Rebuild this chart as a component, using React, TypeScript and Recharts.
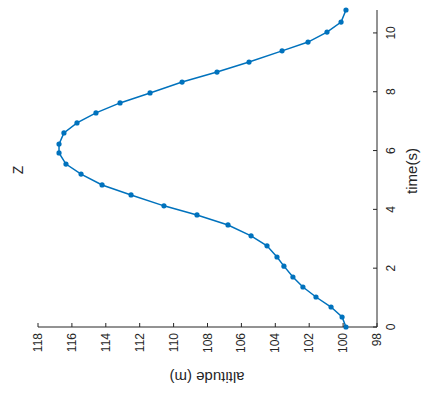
import { Scatter, ScatterChart, XAxis, YAxis } from "recharts";

const TIME = [
  0, 0.34, 0.68, 1.02, 1.36, 1.7, 2.07, 2.38, 2.76, 3.1, 3.47, 3.81, 4.12, 4.49, 4.83, 5.2,
  5.54, 5.92, 6.22, 6.6, 6.94, 7.28, 7.62, 7.96, 8.33, 8.67, 9.01, 9.39, 9.69, 10.03, 10.37, 10.78,
];
const ALTITUDE = [
  99.83, 100.06, 100.71, 101.6, 102.37, 102.96, 103.49, 103.9, 104.49, 105.43, 106.79, 108.62,
  110.57, 112.51, 114.22, 115.46, 116.35, 116.76, 116.76, 116.47, 115.7, 114.58, 113.16, 111.39,
  109.5, 107.44, 105.55, 103.6, 102.07, 100.95, 100.12, 99.83,
];
const ALT_TICKS = [98, 100, 102, 104, 106, 108, 110, 112, 114, 116, 118];
const TIME_TICKS = [0, 2, 4, 6, 8, 10];

const data = TIME.map((t, i) => ({ time: t, alt: ALTITUDE[i] }));

const INK = "#262626";
const BLUE = "#0072BD";
const FONT = "'Liberation Sans', Arial, Helvetica, sans-serif";

// whole figure is turned 90deg counter-clockwise, so all text is rotated
function AltTick({ x, y, payload }: any) {
  const ty = y + 6;
  return (
    <g>
      <line x1={x} y1={y} x2={x} y2={y - 4} stroke={INK} />
      <text
        x={x}
        y={ty}
        transform={`rotate(-90, ${x}, ${ty})`}
        textAnchor="end"
        dominantBaseline="central"
        fontSize={12}
        fontFamily={FONT}
        fill={INK}
      >
        {payload.value}
      </text>
    </g>
  );
}

function TimeTick({ x, y, payload }: any) {
  const tx = x + 14;
  return (
    <g>
      <line x1={x} y1={y} x2={x - 4} y2={y} stroke={INK} />
      <text
        x={tx}
        y={y}
        transform={`rotate(-90, ${tx}, ${y})`}
        textAnchor="middle"
        dominantBaseline="central"
        fontSize={12}
        fontFamily={FONT}
        fill={INK}
      >
        {payload.value}
      </text>
    </g>
  );
}

function Dot({ cx, cy }: any) {
  return <circle cx={cx} cy={cy} r={2.6} fill={BLUE} />;
}

const overlay = (left: number, top: number, angle: number, size: number) => ({
  position: "absolute" as const,
  left,
  top,
  transform: `translate(-50%, -50%) rotate(${angle}deg)`,
  whiteSpace: "nowrap" as const,
  fontFamily: FONT,
  fontSize: size,
  color: INK,
  lineHeight: 1,
});

export default function App() {
  return (
    <div style={{ position: "absolute", left: 0, top: 0, width: 421, height: 396, background: "#fff" }}>
      <ScatterChart width={421} height={396} margin={{ top: 10, right: 0, bottom: 0, left: 38 }}>
        <XAxis
          type="number"
          dataKey="alt"
          domain={[98, 118]}
          reversed
          ticks={ALT_TICKS}
          interval={0}
          height={69}
          tickSize={0}
          tickMargin={0}
          tickLine={false}
          axisLine={{ stroke: INK }}
          tick={<AltTick />}
        />
        <YAxis
          type="number"
          dataKey="time"
          orientation="right"
          domain={[0, "dataMax"]}
          ticks={TIME_TICKS}
          interval={0}
          width={44}
          tickSize={0}
          tickMargin={0}
          tickLine={false}
          axisLine={{ stroke: INK }}
          tick={<TimeTick />}
        />
        <Scatter
          data={data}
          line={{ stroke: BLUE, strokeWidth: 1.5 }}
          shape={<Dot />}
          isAnimationActive={false}
        />
      </ScatterChart>
      <div style={overlay(207, 377, 180, 15)}>altitude (m)</div>
      <div style={overlay(411, 171, -90, 15)}>time(s)</div>
      <div style={overlay(18, 170, -90, 14)}>Z</div>
    </div>
  );
}
